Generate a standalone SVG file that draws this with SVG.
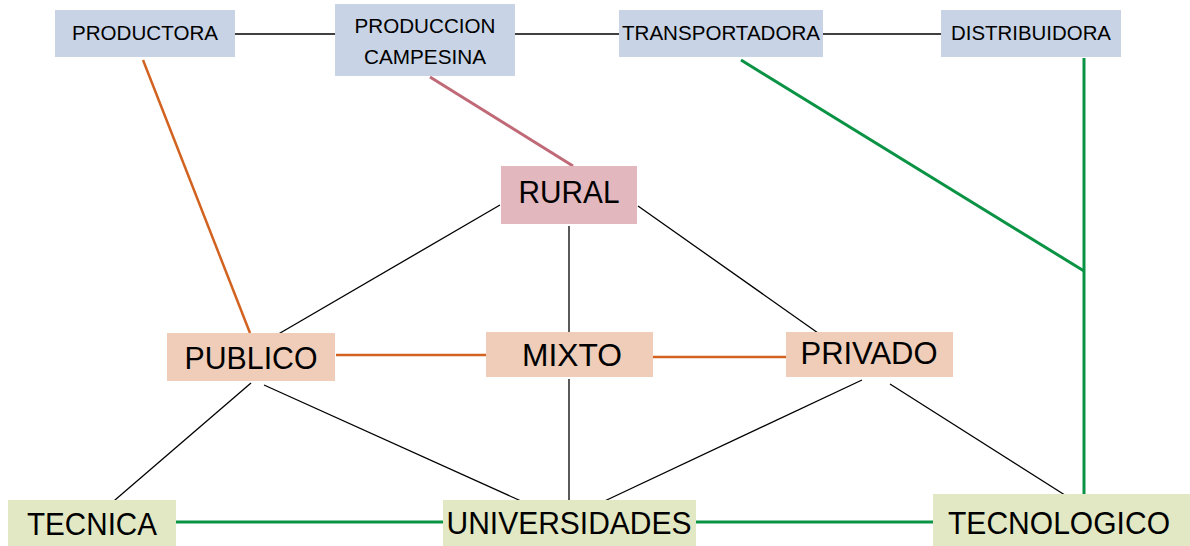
<svg xmlns="http://www.w3.org/2000/svg" width="1190" height="546" viewBox="0 0 1190 546">
<style>
.bl{fill:#c8d4e6}.pk{fill:#e2b7bd}.pe{fill:#efcdb8}.gr{fill:#e2e8c3}
text{font-family:"Liberation Sans","Open Sans",sans-serif;fill:#000;text-anchor:middle}
.s{font-size:19.5px}.L{font-size:32px}
.k{stroke:#000;stroke-width:1.3;fill:none}
.o{stroke:#d2621f;stroke-width:2.5;fill:none}
.p{stroke:#c06a78;stroke-width:3;fill:none}
.g{stroke:#0a9345;stroke-width:3;fill:none}
</style>
<rect width="1190" height="546" fill="#fff"/>
<g id="connectors">
<line class="k" x1="235" y1="34" x2="335" y2="34"/>
<line class="k" x1="515" y1="34" x2="619" y2="34"/>
<line class="k" x1="823" y1="34" x2="941" y2="34"/>
<line class="o" x1="143" y1="60" x2="250" y2="333"/>
<line class="p" x1="430" y1="77" x2="573" y2="166"/>
<line class="g" x1="741" y1="60" x2="1084" y2="271"/>
<line class="g" x1="1084" y1="58" x2="1084" y2="494"/>
<line class="k" x1="500" y1="205" x2="263" y2="343"/>
<line class="k" x1="569" y1="226" x2="569" y2="332"/>
<line class="k" x1="638" y1="206" x2="818" y2="333"/>
<line class="o" x1="336" y1="355" x2="486" y2="355"/>
<line class="o" x1="653" y1="357" x2="786" y2="357"/>
<line class="k" x1="251" y1="383" x2="108" y2="506"/>
<line class="k" x1="264" y1="385" x2="541" y2="510"/>
<line class="k" x1="569" y1="379" x2="569" y2="506"/>
<line class="k" x1="862" y1="380" x2="594" y2="506"/>
<line class="k" x1="890" y1="384" x2="1068" y2="497"/>
<line class="g" x1="176" y1="522" x2="443" y2="522"/>
<line class="g" x1="696" y1="522" x2="933" y2="522"/>
</g>
<g id="productora"><rect class="bl" x="55" y="10" width="180" height="47"/><text class="s" x="145" y="40" textLength="146" lengthAdjust="spacingAndGlyphs">PRODUCTORA</text></g>
<g id="produccion"><rect class="bl" x="335" y="4" width="180" height="72"/><text class="s" x="425" y="33" textLength="141" lengthAdjust="spacingAndGlyphs">PRODUCCION</text><text class="s" x="425" y="64" textLength="122" lengthAdjust="spacingAndGlyphs">CAMPESINA</text></g>
<g id="transportadora"><rect class="bl" x="619" y="10" width="204" height="47"/><text class="s" x="721" y="40" textLength="198" lengthAdjust="spacingAndGlyphs">TRANSPORTADORA</text></g>
<g id="distribuidora"><rect class="bl" x="941" y="10" width="180" height="47"/><text class="s" x="1031" y="40" textLength="160" lengthAdjust="spacingAndGlyphs">DISTRIBUIDORA</text></g>
<g id="rural"><rect class="pk" x="501" y="166" width="136" height="58"/><text class="L" x="569" y="203" textLength="101" lengthAdjust="spacingAndGlyphs">RURAL</text></g>
<g id="publico"><rect class="pe" x="167" y="333" width="168" height="48"/><text class="L" x="251" y="369" textLength="133" lengthAdjust="spacingAndGlyphs">PUBLICO</text></g>
<g id="mixto"><rect class="pe" x="486" y="332" width="167" height="45"/><text class="L" x="572" y="366" textLength="100" lengthAdjust="spacingAndGlyphs">MIXTO</text></g>
<g id="privado"><rect class="pe" x="786" y="332" width="167" height="45"/><text class="L" x="869" y="364" textLength="137" lengthAdjust="spacingAndGlyphs">PRIVADO</text></g>
<g id="tecnica"><rect class="gr" x="8" y="500" width="168" height="46"/><text class="L" x="92" y="535" textLength="130" lengthAdjust="spacingAndGlyphs">TECNICA</text></g>
<g id="universidades"><rect class="gr" x="443" y="500" width="253" height="46"/><text class="L" x="569" y="534" textLength="245" lengthAdjust="spacingAndGlyphs">UNIVERSIDADES</text></g>
<g id="tecnologico"><rect class="gr" x="933" y="494" width="257" height="52"/><text class="L" x="1059" y="534" textLength="222" lengthAdjust="spacingAndGlyphs">TECNOLOGICO</text></g>
</svg>
